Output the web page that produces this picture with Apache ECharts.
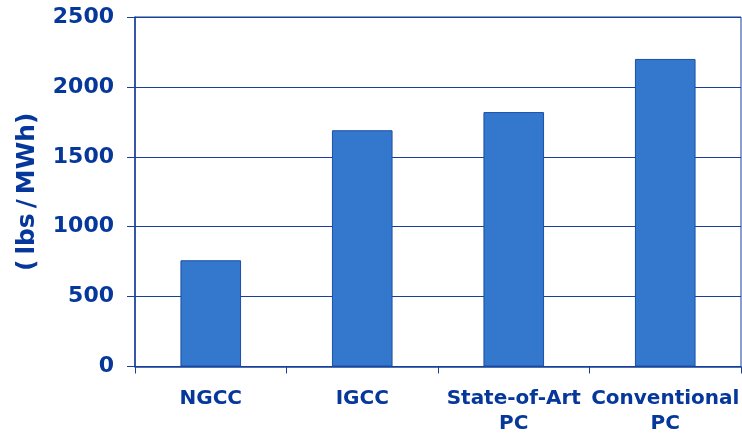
<!DOCTYPE html>
<html>
<head>
<meta charset="utf-8">
<script src="https://cdn.jsdelivr.net/npm/echarts@6/dist/echarts.min.js"></script>
<style>
  html, body { margin: 0; padding: 0; background: #fff; }
  #chart { width: 742px; height: 433px; }
</style>
</head>
<body>
<div id="chart"></div>
<script>
// CO2 emission rate by power plant technology
const categories = ['NGCC', 'IGCC', 'State-of-Art\nPC', 'Conventional\nPC'];
const emissions = [760, 1690, 1820, 2200];
const yTicks = { min: 0, max: 2500, step: 500 };

const navy = '#06379a';
const lineBlue = '#17409a';

const chart = echarts.init(document.getElementById('chart'), null, { renderer: 'canvas' });

chart.setOption({
  animation: false,
  backgroundColor: '#ffffff',
  textStyle: { fontFamily: 'DejaVu Sans' },
  grid: {
    left: 135, right: 1, top: 17, bottom: 66.5,
    containLabel: false,
    outerBoundsMode: 'none',
    show: true, borderColor: lineBlue, borderWidth: 1
  },
  xAxis: {
    type: 'category',
    data: categories,
    boundaryGap: true,
    axisLine: { show: true, lineStyle: { color: lineBlue, width: 1.5 } },
    axisTick: { show: true, inside: false, length: 7, alignWithLabel: false, lineStyle: { color: lineBlue } },
    axisLabel: {
      interval: 0, margin: 20,
      color: navy, fontSize: 20, fontWeight: 'bold', lineHeight: 25,
      fontFamily: 'DejaVu Sans'
    },
    splitLine: { show: false }
  },
  yAxis: {
    type: 'value',
    min: yTicks.min, max: yTicks.max, interval: yTicks.step,
    name: '(\u2009lbs\u2009/\u2009MWh)',
    nameLocation: 'middle',
    nameRotate: 90,
    nameGap: 95,
    nameTextStyle: { color: navy, fontSize: 25, fontWeight: 'bold', fontFamily: 'DejaVu Sans' },
    axisLine: { show: true, lineStyle: { color: lineBlue, width: 1.5 } },
    axisTick: { show: true, inside: false, length: 8, lineStyle: { color: lineBlue } },
    axisLabel: {
      margin: 21, color: navy, fontSize: 22, fontWeight: 'bold', fontFamily: 'DejaVu Sans',
      formatter: (v) => String(v)
    },
    splitLine: { show: true, lineStyle: { color: lineBlue, width: 1 } }
  },
  series: [{
    type: 'bar',
    data: emissions,
    barWidth: '40%',
    itemStyle: { color: '#3378cc', borderColor: '#1b4ea6', borderWidth: 1 }
  }]
});
</script>
</body>
</html>
